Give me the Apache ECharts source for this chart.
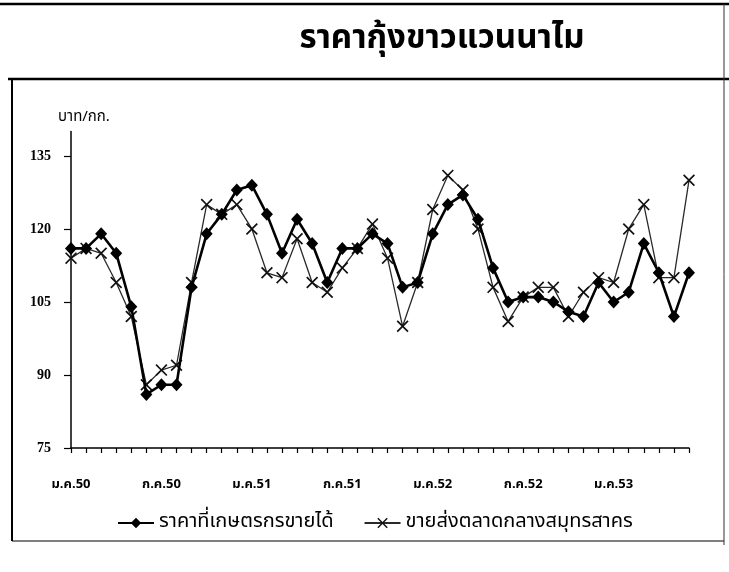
<!DOCTYPE html>
<html>
<head>
<meta charset="utf-8">
<script src="https://cdn.jsdelivr.net/npm/echarts@6/dist/echarts.min.js"></script>
<style>
html,body{margin:0;padding:0;background:#fff;}
#c{width:729px;height:572px;}
</style>
</head>
<body>
<div id="c"></div>
<script>
const titleText = 'ราคากุ้งขาวแวนนาไม';
const unitLabel = 'บาท/กก.';
const seriesNames = ['ราคาที่เกษตรกรขายได้', 'ขายส่งตลาดกลางสมุทรสาคร'];
const monthNames = ['ม.ค.','ก.พ.','มี.ค.','เม.ย.','พ.ค.','มิ.ย.','ก.ค.','ส.ค.','ก.ย.','ต.ค.','พ.ย.','ธ.ค.'];
const years = ['50','51','52','53'];
const labelMonths = ['ม.ค.','ก.ค.'];
const categories = [];
for (const y of years) for (const m of monthNames) categories.push(m + y);
categories.length = 42; // ม.ค.50 – มิ.ย.53

const farmPrice = [116,116,119,115,104,86,88,88,108,119,123,128,
                   129,123,115,122,117,109,116,116,119,117,108,109,
                   119,125,127,122,112,105,106,106,105,103,102,109,
                   105,107,117,111,102,111];
const wholesalePrice = [114,116,115,109,102,88,91,92,109,125,123,125,
                        120,111,110,118,109,107,112,116,121,114,100,109,
                        124,131,128,120,108,101,106,108,108,102,107,110,
                        109,120,125,110,110,130];
const yTicks = [75, 90, 105, 120, 135];

const thai = '"Noto Sans Thai","Noto Sans Thai UI","Tahoma","Loma","Garuda","Norasi","DejaVu Sans",sans-serif';
const crossPath = 'path://M0,1 L1,0 L5,4 L9,0 L10,1 L6,5 L10,9 L9,10 L5,6 L1,10 L0,9 L4,5 Z';

const chart = echarts.init(document.getElementById('c'), null, {renderer:'canvas'});
chart.setOption({
  backgroundColor:'#fff',
  animation:false,
  title:{
    text:titleText, left:437, top:20, textAlign:'center',
    textStyle:{fontFamily:thai, fontSize:33, fontWeight:'bold', color:'#000'}
  },
  graphic:[
    {type:'line', shape:{x1:0,y1:4,x2:729,y2:4}, style:{stroke:'#000', lineWidth:2.5}},
    {type:'line', shape:{x1:8,y1:79,x2:729,y2:79}, style:{stroke:'#000', lineWidth:2.5}},
    {type:'line', shape:{x1:12,y1:79,x2:12,y2:541}, style:{stroke:'#000', lineWidth:2}},
    {type:'line', shape:{x1:12,y1:541,x2:724,y2:541}, style:{stroke:'#000', lineWidth:1.2}},
    {type:'line', shape:{x1:724,y1:4,x2:724,y2:545}, style:{stroke:'#333', lineWidth:1}}
  ],
  grid:{left:71, right:40, top:131.6, bottom:124, containLabel:false},
  xAxis:{
    type:'category', data:categories, boundaryGap:false,
    axisLine:{lineStyle:{color:'#000', width:1.5}},
    axisTick:{show:true, inside:false, length:5, interval:0, lineStyle:{color:'#000', width:1.2}},
    axisLabel:{
      interval:0, margin:31, fontFamily:thai, fontSize:13, fontWeight:'bold', color:'#000',
      formatter:(v)=>{ const m=v.slice(0, v.length-2); return labelMonths.includes(m) ? v : ''; }
    },
    splitLine:{show:false}
  },
  yAxis:{
    type:'value', min:75, max:140, interval:15,
    name:unitLabel, nameLocation:'end', nameGap:6,
    nameTextStyle:{fontFamily:thai, fontSize:15, color:'#000', align:'left', padding:[0,0,0,-13]},
    axisLine:{show:true, lineStyle:{color:'#000', width:1.5}},
    axisTick:{show:true, length:7, lineStyle:{color:'#000', width:1.2}},
    axisLabel:{
      margin:20, fontFamily:'"Liberation Serif","Times New Roman",serif', fontSize:14, fontWeight:'bold', color:'#000',
      showMaxLabel:false,
      formatter:(v)=> yTicks.includes(v) ? String(v) : ''
    },
    splitLine:{show:false}
  },
  legend:{
    left:112, top:508, itemWidth:36, itemHeight:13, itemGap:30,
    textStyle:{fontFamily:thai, fontSize:20, color:'#000'},
    data:seriesNames
  },
  series:[
    {
      name:seriesNames[1], type:'line', data:wholesalePrice,
      symbol:crossPath, symbolSize:12, showAllSymbol:true,
      lineStyle:{color:'#2a2a2a', width:1.3},
      itemStyle:{color:'#111'},
      z:2
    },
    {
      name:seriesNames[0], type:'line', data:farmPrice,
      symbol:'diamond', symbolSize:[12,13], showAllSymbol:true,
      lineStyle:{color:'#000', width:2.6},
      itemStyle:{color:'#000'},
      z:3
    }
  ]
});
</script>
</body>
</html>
